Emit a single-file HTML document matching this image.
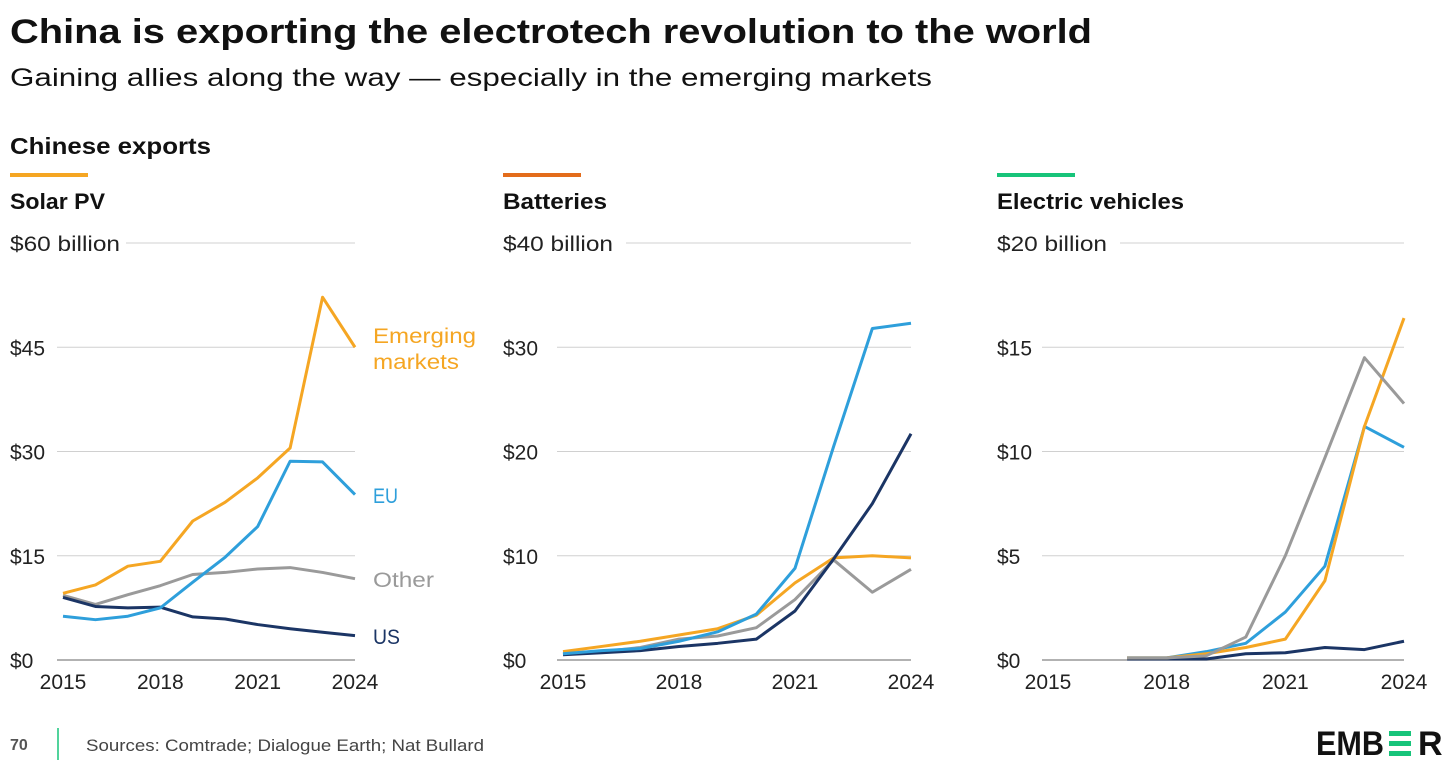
<!DOCTYPE html>
<html><head><meta charset="utf-8"><style>
body{margin:0;background:#fff;width:1456px;height:768px;overflow:hidden;font-family:"Liberation Sans",sans-serif}
svg{position:absolute;left:0;top:0}
</style></head><body>
<svg id="c" width="1456" height="768" font-family="Liberation Sans, sans-serif">
<text x="10" y="43" font-size="34" font-weight="bold" fill="#111" textLength="1082" lengthAdjust="spacingAndGlyphs">China is exporting the electrotech revolution to the world</text>
<text x="10" y="86" font-size="25" fill="#111" textLength="922" lengthAdjust="spacingAndGlyphs">Gaining allies along the way — especially in the emerging markets</text>
<text x="10" y="154" font-size="23" font-weight="bold" fill="#111" textLength="201" lengthAdjust="spacingAndGlyphs">Chinese exports</text>
<text x="10" y="750" font-size="16" font-weight="bold" fill="#555">70</text>
<line x1="58" y1="728" x2="58" y2="760" stroke="#17c47a" stroke-width="1.5"/>
<text x="86" y="751" font-size="17" fill="#444" textLength="398" lengthAdjust="spacingAndGlyphs">Sources: Comtrade; Dialogue Earth; Nat Bullard</text>
<g>
<text x="1316" y="755" font-size="34" font-weight="bold" fill="#111" textLength="68" lengthAdjust="spacingAndGlyphs">EMB</text>
<rect x="1389" y="731" width="22" height="5" fill="#17c47a"/><rect x="1389" y="741" width="22" height="5" fill="#17c47a"/><rect x="1389" y="751" width="22" height="5" fill="#17c47a"/>
<text x="1418" y="755" font-size="34" font-weight="bold" fill="#111">R</text>
</g>
</svg>
<script>
const years=[2015,2016,2017,2018,2019,2020,2021,2022,2023,2024];
const evYears=[2017,2018,2019,2020,2021,2022,2023,2024];
const solarEM=[9.6,10.8,13.5,14.2,20,22.7,26.2,30.5,52.2,45];
const solarEU=[6.3,5.8,6.3,7.5,11.2,14.8,19.2,28.6,28.5,23.8];
const solarOther=[9.3,8.0,9.4,10.7,12.3,12.6,13.1,13.3,12.6,11.7];
const solarUS=[9.0,7.7,7.5,7.6,6.2,5.9,5.1,4.5,4.0,3.5];
const battEU=[0.6,0.9,1.1,1.8,2.7,4.4,8.8,20.5,31.8,32.3];
const battUS=[0.5,0.7,0.9,1.3,1.6,2.0,4.7,9.7,15,21.7];
const battEM=[0.8,1.3,1.8,2.4,3.0,4.3,7.4,9.8,10.0,9.8];
const battOther=[0.6,0.8,1.2,2.0,2.3,3.1,5.8,9.6,6.5,8.7];
const evEM=[0.1,0.1,0.3,0.6,1.0,3.8,11.2,16.4];
const evEU=[0.1,0.1,0.4,0.8,2.3,4.5,11.2,10.2];
const evOther=[0.1,0.1,0.2,1.1,5.0,9.7,14.5,12.3];
const evUS=[0.05,0.05,0.05,0.3,0.35,0.6,0.5,0.9];
const solarTicks=[0,15,30,45,60];
const battTicks=[0,10,20,30,40];
const evTicks=[0,5,10,15,20];
const xTicks=[2015,2018,2021,2024];

const C={em:"#f5a623",eu:"#2e9fdb",other:"#9a9a9a",us:"#1b3565"};
const NS="http://www.w3.org/2000/svg";
const svg=document.getElementById('c');
function el(t,a,p){const e=document.createElementNS(NS,t);for(const k in a)e.setAttribute(k,a[k]);(p||svg).appendChild(e);return e;}

function panel(o){
  const g=el('g',{});
  
  
  const x=y=>o.x0+(y-2015)*(o.x1-o.x0)/9;
  const yv=v=>660-v*(660-243)/o.max;
  const bar=el('rect',{x:o.lx,y:173,width:78,height:4,fill:o.bar},g);
  
  
  const tt=el('text',{x:o.lx,y:209,'font-size':22,'font-weight':'bold',fill:'#111',textLength:o.tw,lengthAdjust:'spacingAndGlyphs'},g);tt.textContent=o.title;
  
  
  o.ticks.forEach((t,i)=>{
    const top=i===o.ticks.length-1;
    const gl=el('line',{x1:top?o.gx:o.x0-6,x2:o.x1,y1:yv(t),y2:yv(t),stroke:i===0?'#999':'#d0d0d0','stroke-width':i===0?1.5:1},g);
    
    
    const lb=el('text',{x:o.lx,y:yv(t)+8,'font-size':21,fill:'#222'},g);lb.textContent='$'+t+(top?'  billion':'');
    lb.setAttribute('xml:space','preserve');
    if(top){lb.setAttribute('textLength',110);lb.setAttribute('lengthAdjust','spacingAndGlyphs');}
    
    
  });
  xTicks.forEach(t=>{
    const lb=el('text',{x:x(t),y:689,'font-size':21,fill:'#222','text-anchor':'middle'},g);lb.textContent=t;
    
    
  });
  o.series.forEach(s=>{
    const pts=s.v.map((v,i)=>x(s.yrs[i])+','+yv(v)).join(' ');
    const pl=el('polyline',{points:pts,fill:'none',stroke:s.c,'stroke-width':3,'stroke-linejoin':'round'},g);
    
    
  });
  return {x,yv,g};
}
panel({name:'solar',title:'Solar PV',tw:95,lx:10,gx:126,x0:63,x1:355,max:60,ticks:solarTicks,bar:'#f5a623',
 series:[{n:'other',v:solarOther,yrs:years,c:C.other},{n:'us',v:solarUS,yrs:years,c:C.us},{n:'eu',v:solarEU,yrs:years,c:C.eu},{n:'em',v:solarEM,yrs:years,c:C.em}]});
panel({name:'batteries',title:'Batteries',tw:104,lx:503,gx:626,x0:563,x1:911,max:40,ticks:battTicks,bar:'#e36c1b',
 series:[{n:'other',v:battOther,yrs:years,c:C.other},{n:'em',v:battEM,yrs:years,c:C.em},{n:'us',v:battUS,yrs:years,c:C.us},{n:'eu',v:battEU,yrs:years,c:C.eu}]});
panel({name:'ev',title:'Electric vehicles',tw:187,lx:997,gx:1120,x0:1048,x1:1404,max:20,ticks:evTicks,bar:'#17c47a',
 series:[{n:'us',v:evUS,yrs:evYears,c:C.us},{n:'eu',v:evEU,yrs:evYears,c:C.eu},{n:'em',v:evEM,yrs:evYears,c:C.em},{n:'other',v:evOther,yrs:evYears,c:C.other}]});
[['Emerging',343,C.em,'label-emerging',103],['markets',369,C.em,'label-markets',86],['EU',503,C.eu,'label-eu',25],['Other',587,C.other,'label-other',61],['US',644,C.us,'label-us',27]].forEach(l=>{
  const t=el('text',{x:373,y:l[1],'font-size':21,fill:l[2],textLength:l[4],lengthAdjust:'spacingAndGlyphs'});t.textContent=l[0];
  
  
});
</script>
</body></html>
